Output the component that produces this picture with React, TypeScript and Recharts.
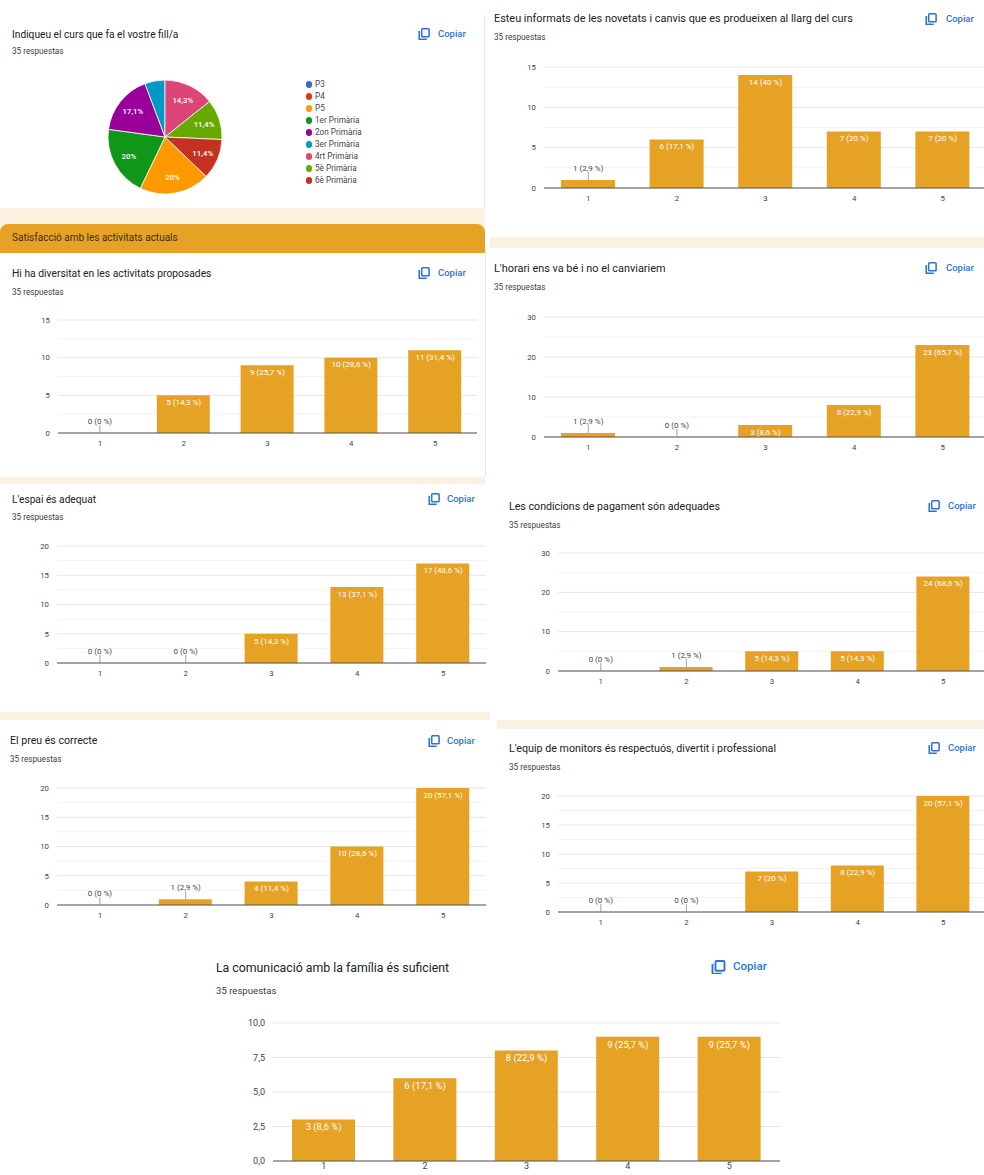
import React from 'react';
import { ComposedChart, PieChart, Bar, Line, XAxis, YAxis, CartesianGrid, LabelList, Pie, Cell } from 'recharts';

// ---------------- DATA ----------------
const TOTAL_RESPONSES = 35;
const ratingCategories = ['1', '2', '3', '4', '5'];

const informatsValues = [1, 6, 14, 7, 7];
const diversitatValues = [0, 5, 9, 10, 11];
const horariValues = [1, 0, 3, 8, 23];
const espaiValues = [0, 0, 5, 13, 17];
const pagamentValues = [0, 1, 5, 5, 24];
const preuValues = [0, 1, 4, 10, 20];
const monitorsValues = [0, 0, 7, 8, 20];
const comunicacioValues = [3, 6, 8, 9, 9];

const ticks15 = [0, 5, 10, 15];
const minor15 = [2.5, 7.5, 12.5];
const ticks20 = [0, 5, 10, 15, 20];
const minor20 = [2.5, 7.5, 12.5, 17.5];
const ticks30 = [0, 10, 20, 30];
const minor30 = [5, 15, 25];
const ticks10 = [0, 2.5, 5, 7.5, 10];
const minorNone: number[] = [];

const courseLabels = ['P3', 'P4', 'P5', '1er Primària', '2on Primària', '3er Primària', '4rt Primària', '5è Primària', '6è Primària'];
const courseCounts = [0, 0, 7, 7, 6, 2, 5, 4, 4];
const courseColors = ['#3366cc', '#dc3912', '#ff9900', '#109618', '#990099', '#0099c6', '#dd4477', '#66aa00', '#c4321f'];

const titles = {
  curs: 'Indiqueu el curs que fa el vostre fill/a',
  informats: 'Esteu informats de les novetats i canvis que es produeixen al llarg del curs',
  section: 'Satisfacció amb les activitats actuals',
  diversitat: 'Hi ha diversitat en les activitats proposades',
  horari: "L'horari ens va bé i no el canviariem",
  espai: "L'espai és adequat",
  pagament: 'Les condicions de pagament són adequades',
  preu: 'El preu és correcte',
  monitors: "L'equip de monitors és respectuós, divertit i professional",
  comunicacio: 'La comunicació amb la família és suficient',
};
const subtitleText = `${TOTAL_RESPONSES} respuestas`;
const copyText = 'Copiar';

// ---------------- STYLE ----------------
const C = {
  bar: '#e5a224',
  header: '#e5a224',
  beige: '#fbf1e1',
  title: '#202124',
  sub: '#3c4043',
  tick: '#444',
  blue: '#2f72d6',
  gridMajor: '#e6e6e6',
  gridMinor: '#f3f3f3',
  axis: '#555',
};

function fmtNum(n: number) {
  return String(Math.round(n * 10) / 10).replace('.', ',');
}
function pctText(v: number) {
  return fmtNum((v / TOTAL_RESPONSES) * 100);
}

function Txt({ x, y, fs, color, children, weight }: any) {
  return (
    <div
      style={{
        position: 'absolute',
        left: x,
        top: y - fs * 0.6,
        fontSize: fs,
        lineHeight: `${fs * 1.2}px`,
        color,
        whiteSpace: 'nowrap',
        fontWeight: weight || 400,
      }}
    >
      {children}
    </div>
  );
}

function CopyButton({ iconX, textX, y, fs }: any) {
  const s = fs * 1.3;
  return (
    <>
      <svg style={{ position: 'absolute', left: iconX, top: y - s / 2 }} width={s} height={s} viewBox="0 0 12 12">
        <path d="M1.2 3 V11 H8.5" stroke={C.blue} fill="none" strokeWidth={1.5} />
        <rect x={3.6} y={0.8} width={7.2} height={7.8} rx={0.8} stroke={C.blue} fill="none" strokeWidth={1.5} />
      </svg>
      <Txt x={textX} y={y} fs={fs} color={C.blue} weight={500}>{copyText}</Txt>
    </>
  );
}

function CardHead({ title, tx, ty, tfs, sy, sfs, iconX, copyX, cy, cfs }: any) {
  return (
    <>
      <Txt x={tx} y={ty} fs={tfs} color={C.title}>{title}</Txt>
      <Txt x={tx} y={sy} fs={sfs} color={C.sub}>{subtitleText}</Txt>
      <CopyButton iconX={iconX} textX={copyX} y={cy} fs={cfs} />
    </>
  );
}

// label drawn at each value point: inside the bar (white) or above it with a leader line
function makeBarLabel(fs: number, insideOffset: number, plotH: number, max: number) {
  return (props: any) => {
    const vb = props.viewBox || {};
    const x = Number(props.x ?? vb.x);
    const y = Number(props.y ?? vb.y);
    const v = Number(props.value);
    if (!isFinite(x) || !isFinite(y) || !isFinite(v)) return null;
    const barPx = (plotH * v) / max;
    const text = `${v} (${pctText(v)} %)`;
    if (barPx < 10) {
      return (
        <g>
          <line x1={x} x2={x} y1={y - 8} y2={y} stroke="#8a8a8a" strokeWidth={0.8} />
          <text x={x} y={y - 12} dy="0.35em" textAnchor="middle" fontSize={fs} fill="#444">
            {text}
          </text>
        </g>
      );
    }
    return (
      <text x={x} y={y + insideOffset} dy="0.35em" textAnchor="middle" fontSize={fs} fill="#fff">
        {text}
      </text>
    );
  };
}

function BarPlot({ values, ticks, minor, L, R, T, B, barSize, tickFs, labelFs, insideOffset, fmt, xTickSize }: any) {
  const data = ratingCategories.map((c, i) => ({ name: c, value: values[i] }));
  const yW = 40;
  const mt = 12;
  const xH = 26;
  const left = L - yW;
  const top = T - mt;
  const width = R - L + yW + 2;
  const height = B - T + mt + xH;
  const max = ticks[ticks.length - 1];
  return (
    <div style={{ position: 'absolute', left, top }}>
      <ComposedChart width={width} height={height} data={data} margin={{ top: mt, right: 2, left: 0, bottom: 0 }} barSize={barSize}>
        {minor.length > 0 && <CartesianGrid horizontal vertical={false} stroke={C.gridMinor} horizontalValues={minor} />}
        <CartesianGrid horizontal vertical={false} stroke={C.gridMajor} />
        <XAxis
          dataKey="name"
          height={xH}
          tickLine={false}
          tickSize={xTickSize ?? 6}
          axisLine={{ stroke: C.axis, strokeWidth: 1 }}
          tick={{ fontSize: tickFs, fill: C.tick }}
          tickMargin={1}
          interval={0}
        />
        <YAxis
          width={yW}
          domain={[0, max]}
          ticks={ticks}
          tickLine={false}
          axisLine={false}
          tick={{ fontSize: tickFs, fill: C.tick }}
          tickMargin={2}
          tickFormatter={fmt || ((v: number) => String(v))}
          allowDataOverflow
        />
        <Bar dataKey="value" fill={C.bar} isAnimationActive={false} />
        <Line dataKey="value" stroke="none" dot={false} activeDot={false} isAnimationActive={false} legendType="none">
          <LabelList dataKey="value" content={makeBarLabel(labelFs, insideOffset, B - T, max)} />
        </Line>
      </ComposedChart>
    </div>
  );
}

const RAD = Math.PI / 180;
function renderPieLabel(p: any) {
  if (!p.percent || p.percent < 0.08) return null;
  const r = p.outerRadius * 0.72;
  const x = p.cx + r * Math.cos(-p.midAngle * RAD);
  const y = p.cy + r * Math.sin(-p.midAngle * RAD);
  return (
    <text x={x} y={y} dy="0.35em" textAnchor="middle" fill="#fff" fontSize={7.8} fontWeight={500}>
      {fmtNum(p.percent * 100) + '%'}
    </text>
  );
}

function CoursePie() {
  const data = courseLabels.map((l, i) => ({ name: l, value: courseCounts[i] }));
  const total = courseCounts.reduce((a, b) => a + b, 0);
  const firstAtTop = courseLabels.indexOf('4rt Primària');
  const before = courseCounts.slice(0, firstAtTop).reduce((a, b) => a + b, 0);
  const start = 90 + (before / total) * 360;
  return (
    <>
      <div style={{ position: 'absolute', left: 105, top: 76.5 }}>
        <PieChart width={120} height={120} margin={{ top: 0, right: 0, bottom: 0, left: 0 }}>
          <Pie
            data={data}
            dataKey="value"
            cx={60}
            cy={60}
            outerRadius={57}
            innerRadius={0}
            startAngle={start}
            endAngle={start - 360}
            stroke="#fff"
            strokeWidth={0.8}
            label={renderPieLabel}
            labelLine={false}
            isAnimationActive={false}
          >
            {data.map((d, i) => (
              <Cell key={d.name} fill={courseColors[i]} />
            ))}
          </Pie>
        </PieChart>
      </div>
      {courseLabels.map((l, i) => (
        <React.Fragment key={l}>
          <div
            style={{
              position: 'absolute',
              left: 305.5,
              top: 84 + i * 12 - 3,
              width: 6.5,
              height: 6.5,
              borderRadius: 3.25,
              background: courseColors[i],
            }}
          />
          <Txt x={315} y={84.5 + i * 12} fs={8.2} color="#444">{l}</Txt>
        </React.Fragment>
      ))}
    </>
  );
}

function Rect({ x, y, w, h, color, radius }: any) {
  return <div style={{ position: 'absolute', left: x, top: y, width: w, height: h, background: color, borderRadius: radius || 0 }} />;
}

export default function App() {
  const smallTick = 7.8;
  const smallLabel = 8;
  const sub = 8.2;
  return (
    <div
      style={{
        position: 'absolute',
        left: 0,
        top: 0,
        width: 984,
        height: 1175,
        overflow: 'hidden',
        background: '#fff',
        fontFamily: 'Roboto, Arial, sans-serif',
      }}
    >
      {/* background strips */}
      <Rect x={0} y={208} w={485} h={17} color={C.beige} />
      <Rect x={490} y={237} w={494} h={11} color={C.beige} />
      <Rect x={0} y={477} w={485} h={7} color={C.beige} />
      <Rect x={0} y={712} w={490} h={8} color={C.beige} />
      <Rect x={497} y={720} w={487} h={9} color={C.beige} />
      <Rect x={484} y={15} w={1} h={193} color="#e8e8e8" />
      <Rect x={485} y={252} w={1} h={225} color="#e8e8e8" />

      {/* section header */}
      <Rect x={0} y={224} w={485} h={29} color={C.header} radius="8px 8px 0 0" />
      <Txt x={12} y={238} fs={10} color="#3a3020">{titles.section}</Txt>

      {/* A: pie */}
      <CardHead title={titles.curs} tx={12} ty={35} tfs={10.2} sy={52} sfs={sub} iconX={418} copyX={438} cy={34} cfs={9.5} />
      <CoursePie />

      {/* B */}
      <CardHead title={titles.informats} tx={494} ty={19} tfs={10.9} sy={38} sfs={sub} iconX={925} copyX={946} cy={19} cfs={9.5} />
      <BarPlot values={informatsValues} ticks={ticks15} minor={minor15} L={544} R={987} T={67} B={188} barSize={54} tickFs={smallTick} labelFs={smallLabel} insideOffset={7} />

      {/* C */}
      <CardHead title={titles.diversitat} tx={12} ty={274} tfs={10.3} sy={293} sfs={sub} iconX={418} copyX={438} cy={273} cfs={9.5} />
      <BarPlot values={diversitatValues} ticks={ticks15} minor={minor15} L={58} R={477} T={320} B={433} barSize={53} tickFs={smallTick} labelFs={smallLabel} insideOffset={7} />

      {/* D */}
      <CardHead title={titles.horari} tx={494} ty={269} tfs={10.9} sy={288} sfs={sub} iconX={925} copyX={946} cy={268} cfs={9.5} />
      <BarPlot values={horariValues} ticks={ticks30} minor={minor30} L={544} R={987} T={317} B={437} barSize={54} tickFs={smallTick} labelFs={smallLabel} insideOffset={7} />

      {/* E */}
      <CardHead title={titles.espai} tx={12} ty={500} tfs={10.2} sy={518} sfs={sub} iconX={428} copyX={447} cy={499} cfs={9.5} />
      <BarPlot values={espaiValues} ticks={ticks20} minor={minor20} L={57} R={486} T={546} B={663} barSize={53} tickFs={smallTick} labelFs={smallLabel} insideOffset={7} />

      {/* F */}
      <CardHead title={titles.pagament} tx={509} ty={507} tfs={10.65} sy={526} sfs={sub} iconX={928} copyX={948} cy={506} cfs={9.5} />
      <BarPlot values={pagamentValues} ticks={ticks30} minor={minor30} L={558} R={986} T={553} B={671} barSize={53} tickFs={smallTick} labelFs={smallLabel} insideOffset={7} />

      {/* G */}
      <CardHead title={titles.preu} tx={10} ty={741} tfs={10.6} sy={760} sfs={sub} iconX={428} copyX={447} cy={741} cfs={9.5} />
      <BarPlot values={preuValues} ticks={ticks20} minor={minor20} L={57} R={486} T={788} B={905} barSize={53} tickFs={smallTick} labelFs={smallLabel} insideOffset={7} />

      {/* H */}
      <CardHead title={titles.monitors} tx={509} ty={749} tfs={10.7} sy={768} sfs={sub} iconX={928} copyX={948} cy={748} cfs={9.5} />
      <BarPlot values={monitorsValues} ticks={ticks20} minor={minor20} L={558} R={986} T={796} B={912} barSize={53} tickFs={smallTick} labelFs={smallLabel} insideOffset={7} />

      {/* I */}
      <CardHead title={titles.comunicacio} tx={216} ty={968} tfs={12.3} sy={991} sfs={9.6} iconX={711} copyX={733} cy={967} cfs={11.5} />
      <BarPlot
        values={comunicacioValues}
        ticks={ticks10}
        minor={minorNone}
        L={273}
        R={780}
        T={1023}
        B={1161}
        barSize={63}
        tickFs={9}
        labelFs={9.5}
        insideOffset={7.5}
        xTickSize={1}
        fmt={(v: number) => v.toFixed(1).replace('.', ',')}
      />
    </div>
  );
}
